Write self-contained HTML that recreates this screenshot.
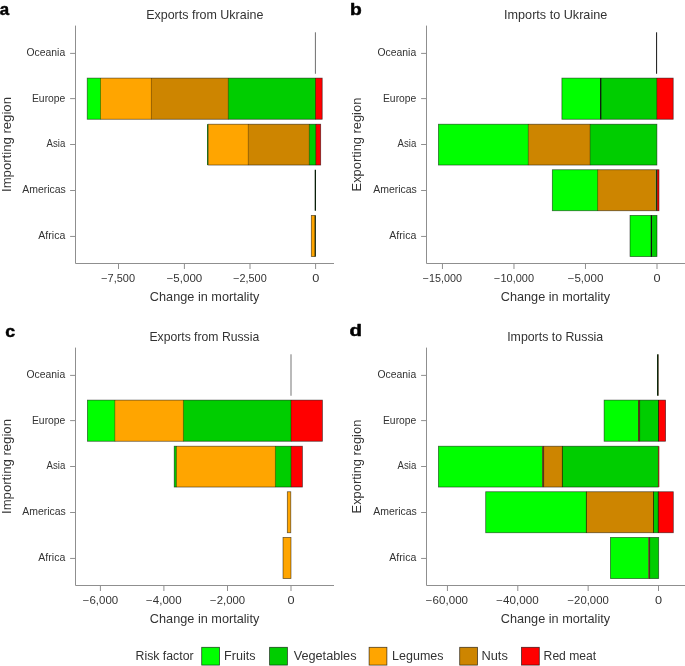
<!DOCTYPE html>
<html><head><meta charset="utf-8"><style>
html,body{margin:0;padding:0;background:#fff;}
body{width:685px;height:666px;overflow:hidden;}
svg{display:block;}
svg text{font-family:"Liberation Sans", sans-serif;fill:#333333;}
.t{opacity:0.999;}
</style></head><body>
<svg width="685" height="666" viewBox="0 0 685 666">
<rect x="0" y="0" width="685" height="666" fill="#fff"/>
<line x1="315.40" y1="32.30" x2="315.40" y2="73.75" stroke="#6e6e6e" stroke-width="1.0"/>
<rect x="87.20" y="78.10" width="13.90" height="41.15" fill="#00FF00" />
<rect x="100.50" y="78.10" width="51.50" height="41.15" fill="#FFA500" />
<rect x="151.40" y="78.10" width="77.50" height="41.15" fill="#CD8500" />
<rect x="228.30" y="78.10" width="87.80" height="41.15" fill="#00CD00" />
<rect x="315.50" y="78.10" width="6.70" height="41.15" fill="#FF0000" />
<rect x="87.20" y="78.10" width="235.00" height="41.15" fill="none" stroke="#000" stroke-opacity="0.6" stroke-width="0.75"/>
<line x1="100.50" y1="78.10" x2="100.50" y2="119.25" stroke="#000" stroke-opacity="0.45" stroke-width="0.75"/>
<line x1="151.40" y1="78.10" x2="151.40" y2="119.25" stroke="#000" stroke-opacity="0.45" stroke-width="0.75"/>
<line x1="228.30" y1="78.10" x2="228.30" y2="119.25" stroke="#000" stroke-opacity="0.45" stroke-width="0.75"/>
<line x1="315.50" y1="78.10" x2="315.50" y2="119.25" stroke="#000" stroke-opacity="0.45" stroke-width="0.75"/>
<rect x="208.10" y="124.20" width="40.80" height="40.85" fill="#FFA500" />
<rect x="248.30" y="124.20" width="61.60" height="40.85" fill="#CD8500" />
<rect x="309.30" y="124.20" width="7.10" height="40.85" fill="#00CD00" />
<rect x="315.80" y="124.20" width="4.90" height="40.85" fill="#FF0000" />
<rect x="208.10" y="124.20" width="112.60" height="40.85" fill="none" stroke="#000" stroke-opacity="0.6" stroke-width="0.75"/>
<line x1="248.30" y1="124.20" x2="248.30" y2="165.05" stroke="#000" stroke-opacity="0.45" stroke-width="0.75"/>
<line x1="309.30" y1="124.20" x2="309.30" y2="165.05" stroke="#000" stroke-opacity="0.45" stroke-width="0.75"/>
<line x1="315.80" y1="124.20" x2="315.80" y2="165.05" stroke="#000" stroke-opacity="0.45" stroke-width="0.75"/>
<rect x="207.00" y="124.20" width="1.10" height="40.85" fill="#1d6b1d" />
<line x1="315.35" y1="169.75" x2="315.35" y2="210.75" stroke="#0a200a" stroke-width="1.3"/>
<rect x="311.30" y="215.40" width="3.90" height="41.20" fill="#FFA500" />
<rect x="311.30" y="215.40" width="3.90" height="41.20" fill="none" stroke="#000" stroke-opacity="0.6" stroke-width="0.75"/>
<rect x="314.70" y="215.40" width="1.10" height="41.20" fill="#0a200a" />
<path d="M75.50 25.60 L75.50 263.50 L334.00 263.50" fill="none" stroke="#8f8f8f" stroke-width="1" stroke-linejoin="round"/>
<line x1="70.10" y1="53.40" x2="75.50" y2="53.40" stroke="#8f8f8f" stroke-width="1"/>
<line x1="70.10" y1="98.60" x2="75.50" y2="98.60" stroke="#8f8f8f" stroke-width="1"/>
<line x1="70.10" y1="144.50" x2="75.50" y2="144.50" stroke="#8f8f8f" stroke-width="1"/>
<line x1="70.10" y1="190.50" x2="75.50" y2="190.50" stroke="#8f8f8f" stroke-width="1"/>
<line x1="70.10" y1="236.45" x2="75.50" y2="236.45" stroke="#8f8f8f" stroke-width="1"/>
<line x1="118.50" y1="263.50" x2="118.50" y2="269.00" stroke="#8f8f8f" stroke-width="1"/>
<line x1="184.40" y1="263.50" x2="184.40" y2="269.00" stroke="#8f8f8f" stroke-width="1"/>
<line x1="250.00" y1="263.50" x2="250.00" y2="269.00" stroke="#8f8f8f" stroke-width="1"/>
<line x1="315.60" y1="263.50" x2="315.60" y2="269.00" stroke="#8f8f8f" stroke-width="1"/>
<rect x="656.00" y="32.30" width="1.10" height="41.45" fill="#2a2a2a" />
<rect x="561.90" y="78.10" width="39.40" height="41.15" fill="#00FF00" />
<rect x="600.70" y="78.10" width="56.70" height="41.15" fill="#00CD00" />
<rect x="656.80" y="78.10" width="16.40" height="41.15" fill="#FF0000" />
<rect x="561.90" y="78.10" width="111.30" height="41.15" fill="none" stroke="#000" stroke-opacity="0.6" stroke-width="0.75"/>
<line x1="600.70" y1="78.10" x2="600.70" y2="119.25" stroke="#000" stroke-opacity="0.45" stroke-width="0.75"/>
<line x1="656.80" y1="78.10" x2="656.80" y2="119.25" stroke="#000" stroke-opacity="0.45" stroke-width="0.75"/>
<rect x="600.10" y="78.10" width="1.20" height="41.15" fill="#111111" />
<rect x="438.40" y="124.20" width="90.50" height="40.85" fill="#00FF00" />
<rect x="528.30" y="124.20" width="62.40" height="40.85" fill="#CD8500" />
<rect x="590.10" y="124.20" width="66.80" height="40.85" fill="#00CD00" />
<rect x="438.40" y="124.20" width="218.50" height="40.85" fill="none" stroke="#000" stroke-opacity="0.6" stroke-width="0.75"/>
<line x1="528.30" y1="124.20" x2="528.30" y2="165.05" stroke="#000" stroke-opacity="0.45" stroke-width="0.75"/>
<line x1="590.10" y1="124.20" x2="590.10" y2="165.05" stroke="#000" stroke-opacity="0.45" stroke-width="0.75"/>
<rect x="552.30" y="169.75" width="45.90" height="41.00" fill="#00FF00" />
<rect x="597.60" y="169.75" width="58.20" height="41.00" fill="#CD8500" />
<rect x="657.10" y="169.75" width="1.90" height="41.00" fill="#FF0000" />
<rect x="552.30" y="169.75" width="106.70" height="41.00" fill="none" stroke="#000" stroke-opacity="0.6" stroke-width="0.75"/>
<line x1="597.60" y1="169.75" x2="597.60" y2="210.75" stroke="#000" stroke-opacity="0.45" stroke-width="0.75"/>
<line x1="657.10" y1="169.75" x2="657.10" y2="210.75" stroke="#000" stroke-opacity="0.45" stroke-width="0.75"/>
<rect x="655.80" y="169.75" width="1.30" height="41.00" fill="#0d3d0d" />
<rect x="630.00" y="215.40" width="21.90" height="41.20" fill="#00FF00" />
<rect x="651.30" y="215.40" width="5.70" height="41.20" fill="#00CD00" />
<rect x="630.00" y="215.40" width="27.00" height="41.20" fill="none" stroke="#000" stroke-opacity="0.6" stroke-width="0.75"/>
<line x1="651.30" y1="215.40" x2="651.30" y2="256.60" stroke="#000" stroke-opacity="0.45" stroke-width="0.75"/>
<rect x="650.80" y="215.40" width="1.20" height="41.20" fill="#111111" />
<path d="M426.50 25.60 L426.50 263.50 L685.50 263.50" fill="none" stroke="#8f8f8f" stroke-width="1" stroke-linejoin="round"/>
<line x1="421.10" y1="53.40" x2="426.50" y2="53.40" stroke="#8f8f8f" stroke-width="1"/>
<line x1="421.10" y1="98.60" x2="426.50" y2="98.60" stroke="#8f8f8f" stroke-width="1"/>
<line x1="421.10" y1="144.50" x2="426.50" y2="144.50" stroke="#8f8f8f" stroke-width="1"/>
<line x1="421.10" y1="190.50" x2="426.50" y2="190.50" stroke="#8f8f8f" stroke-width="1"/>
<line x1="421.10" y1="236.45" x2="426.50" y2="236.45" stroke="#8f8f8f" stroke-width="1"/>
<line x1="442.45" y1="263.50" x2="442.45" y2="269.00" stroke="#8f8f8f" stroke-width="1"/>
<line x1="513.97" y1="263.50" x2="513.97" y2="269.00" stroke="#8f8f8f" stroke-width="1"/>
<line x1="585.48" y1="263.50" x2="585.48" y2="269.00" stroke="#8f8f8f" stroke-width="1"/>
<line x1="657.00" y1="263.50" x2="657.00" y2="269.00" stroke="#8f8f8f" stroke-width="1"/>
<rect x="290.00" y="354.30" width="2.00" height="41.45" fill="#bababa" />
<rect x="87.40" y="400.10" width="28.00" height="41.15" fill="#00FF00" />
<rect x="114.80" y="400.10" width="69.20" height="41.15" fill="#FFA500" />
<rect x="183.40" y="400.10" width="108.20" height="41.15" fill="#00CD00" />
<rect x="291.00" y="400.10" width="31.40" height="41.15" fill="#FF0000" />
<rect x="87.40" y="400.10" width="235.00" height="41.15" fill="none" stroke="#000" stroke-opacity="0.6" stroke-width="0.75"/>
<line x1="114.80" y1="400.10" x2="114.80" y2="441.25" stroke="#000" stroke-opacity="0.45" stroke-width="0.75"/>
<line x1="183.40" y1="400.10" x2="183.40" y2="441.25" stroke="#000" stroke-opacity="0.45" stroke-width="0.75"/>
<line x1="291.00" y1="400.10" x2="291.00" y2="441.25" stroke="#000" stroke-opacity="0.45" stroke-width="0.75"/>
<rect x="174.20" y="446.20" width="2.80" height="40.85" fill="#00CD00" />
<rect x="176.40" y="446.20" width="99.60" height="40.85" fill="#FFA500" />
<rect x="275.40" y="446.20" width="16.30" height="40.85" fill="#00CD00" />
<rect x="291.10" y="446.20" width="11.30" height="40.85" fill="#FF0000" />
<rect x="174.20" y="446.20" width="128.20" height="40.85" fill="none" stroke="#000" stroke-opacity="0.6" stroke-width="0.75"/>
<line x1="176.40" y1="446.20" x2="176.40" y2="487.05" stroke="#000" stroke-opacity="0.45" stroke-width="0.75"/>
<line x1="275.40" y1="446.20" x2="275.40" y2="487.05" stroke="#000" stroke-opacity="0.45" stroke-width="0.75"/>
<line x1="291.10" y1="446.20" x2="291.10" y2="487.05" stroke="#000" stroke-opacity="0.45" stroke-width="0.75"/>
<rect x="287.30" y="491.75" width="3.50" height="41.00" fill="#FFA500" />
<rect x="287.30" y="491.75" width="3.50" height="41.00" fill="none" stroke="#000" stroke-opacity="0.6" stroke-width="0.75"/>
<rect x="283.00" y="537.40" width="8.00" height="41.20" fill="#FFA500" />
<rect x="283.00" y="537.40" width="8.00" height="41.20" fill="none" stroke="#000" stroke-opacity="0.6" stroke-width="0.75"/>
<path d="M75.50 347.60 L75.50 585.50 L334.00 585.50" fill="none" stroke="#8f8f8f" stroke-width="1" stroke-linejoin="round"/>
<line x1="70.10" y1="375.40" x2="75.50" y2="375.40" stroke="#8f8f8f" stroke-width="1"/>
<line x1="70.10" y1="420.60" x2="75.50" y2="420.60" stroke="#8f8f8f" stroke-width="1"/>
<line x1="70.10" y1="466.50" x2="75.50" y2="466.50" stroke="#8f8f8f" stroke-width="1"/>
<line x1="70.10" y1="512.50" x2="75.50" y2="512.50" stroke="#8f8f8f" stroke-width="1"/>
<line x1="70.10" y1="558.45" x2="75.50" y2="558.45" stroke="#8f8f8f" stroke-width="1"/>
<line x1="100.40" y1="585.50" x2="100.40" y2="591.00" stroke="#8f8f8f" stroke-width="1"/>
<line x1="163.90" y1="585.50" x2="163.90" y2="591.00" stroke="#8f8f8f" stroke-width="1"/>
<line x1="227.50" y1="585.50" x2="227.50" y2="591.00" stroke="#8f8f8f" stroke-width="1"/>
<line x1="291.00" y1="585.50" x2="291.00" y2="591.00" stroke="#8f8f8f" stroke-width="1"/>
<rect x="657.00" y="354.30" width="1.00" height="41.45" fill="#0b280b" />
<rect x="658.00" y="354.30" width="1.00" height="41.45" fill="#78705f" />
<rect x="604.10" y="400.10" width="34.20" height="41.15" fill="#00FF00" />
<rect x="639.60" y="400.10" width="19.50" height="41.15" fill="#00CD00" />
<rect x="658.50" y="400.10" width="7.10" height="41.15" fill="#FF0000" />
<rect x="604.10" y="400.10" width="61.50" height="41.15" fill="none" stroke="#000" stroke-opacity="0.6" stroke-width="0.75"/>
<line x1="639.60" y1="400.10" x2="639.60" y2="441.25" stroke="#000" stroke-opacity="0.8" stroke-width="0.75"/>
<line x1="658.50" y1="400.10" x2="658.50" y2="441.25" stroke="#000" stroke-opacity="0.8" stroke-width="0.75"/>
<rect x="638.10" y="400.10" width="1.60" height="41.15" fill="#4a2604" />
<rect x="438.40" y="446.20" width="104.00" height="40.85" fill="#00FF00" />
<rect x="543.60" y="446.20" width="19.40" height="40.85" fill="#CD8500" />
<rect x="562.40" y="446.20" width="95.90" height="40.85" fill="#00CD00" />
<rect x="438.40" y="446.20" width="219.90" height="40.85" fill="none" stroke="#000" stroke-opacity="0.6" stroke-width="0.75"/>
<line x1="543.60" y1="446.20" x2="543.60" y2="487.05" stroke="#000" stroke-opacity="0.8" stroke-width="0.75"/>
<line x1="562.40" y1="446.20" x2="562.40" y2="487.05" stroke="#000" stroke-opacity="0.8" stroke-width="0.75"/>
<rect x="542.20" y="446.20" width="1.50" height="40.85" fill="#4a2604" />
<rect x="658.20" y="446.20" width="1.10" height="40.85" fill="#8a1a05" />
<rect x="485.70" y="491.75" width="101.30" height="41.00" fill="#00FF00" />
<rect x="586.40" y="491.75" width="67.70" height="41.00" fill="#CD8500" />
<rect x="653.50" y="491.75" width="5.40" height="41.00" fill="#00CD00" />
<rect x="658.30" y="491.75" width="15.00" height="41.00" fill="#FF0000" />
<rect x="485.70" y="491.75" width="187.60" height="41.00" fill="none" stroke="#000" stroke-opacity="0.6" stroke-width="0.75"/>
<line x1="586.40" y1="491.75" x2="586.40" y2="532.75" stroke="#000" stroke-opacity="0.8" stroke-width="0.75"/>
<line x1="653.50" y1="491.75" x2="653.50" y2="532.75" stroke="#000" stroke-opacity="0.8" stroke-width="0.75"/>
<line x1="658.30" y1="491.75" x2="658.30" y2="532.75" stroke="#000" stroke-opacity="0.8" stroke-width="0.75"/>
<rect x="610.40" y="537.40" width="38.00" height="41.20" fill="#00FF00" />
<rect x="649.60" y="537.40" width="9.10" height="41.20" fill="#00CD00" />
<rect x="610.40" y="537.40" width="48.30" height="41.20" fill="none" stroke="#000" stroke-opacity="0.6" stroke-width="0.75"/>
<line x1="649.60" y1="537.40" x2="649.60" y2="578.60" stroke="#000" stroke-opacity="0.8" stroke-width="0.75"/>
<rect x="648.30" y="537.40" width="1.40" height="41.20" fill="#4a2604" />
<path d="M426.50 347.60 L426.50 585.50 L685.50 585.50" fill="none" stroke="#8f8f8f" stroke-width="1" stroke-linejoin="round"/>
<line x1="421.10" y1="375.40" x2="426.50" y2="375.40" stroke="#8f8f8f" stroke-width="1"/>
<line x1="421.10" y1="420.60" x2="426.50" y2="420.60" stroke="#8f8f8f" stroke-width="1"/>
<line x1="421.10" y1="466.50" x2="426.50" y2="466.50" stroke="#8f8f8f" stroke-width="1"/>
<line x1="421.10" y1="512.50" x2="426.50" y2="512.50" stroke="#8f8f8f" stroke-width="1"/>
<line x1="421.10" y1="558.45" x2="426.50" y2="558.45" stroke="#8f8f8f" stroke-width="1"/>
<line x1="447.45" y1="585.50" x2="447.45" y2="591.00" stroke="#8f8f8f" stroke-width="1"/>
<line x1="517.80" y1="585.50" x2="517.80" y2="591.00" stroke="#8f8f8f" stroke-width="1"/>
<line x1="588.15" y1="585.50" x2="588.15" y2="591.00" stroke="#8f8f8f" stroke-width="1"/>
<line x1="658.50" y1="585.50" x2="658.50" y2="591.00" stroke="#8f8f8f" stroke-width="1"/>
<rect x="201.70" y="647.30" width="17.80" height="17.80" fill="#00FF00" stroke="#000" stroke-opacity="0.7" stroke-width="0.8"/>
<rect x="269.60" y="647.30" width="17.80" height="17.80" fill="#00CD00" stroke="#000" stroke-opacity="0.7" stroke-width="0.8"/>
<rect x="369.10" y="647.30" width="17.80" height="17.80" fill="#FFA500" stroke="#000" stroke-opacity="0.7" stroke-width="0.8"/>
<rect x="459.70" y="647.30" width="17.80" height="17.80" fill="#CD8500" stroke="#000" stroke-opacity="0.7" stroke-width="0.8"/>
<rect x="521.50" y="647.30" width="17.80" height="17.80" fill="#FF0000" stroke="#000" stroke-opacity="0.7" stroke-width="0.8"/>
<g class="t">
<text x="26.53" y="56.00" font-size="10.0" font-weight="normal" textLength="38.66" lengthAdjust="spacingAndGlyphs" >Oceania</text>
<text x="31.97" y="102.00" font-size="10.0" font-weight="normal" textLength="33.39" lengthAdjust="spacingAndGlyphs" >Europe</text>
<text x="46.60" y="147.00" font-size="10.0" font-weight="normal" textLength="18.68" lengthAdjust="spacingAndGlyphs" >Asia</text>
<text x="22.20" y="193.00" font-size="10.0" font-weight="normal" textLength="43.67" lengthAdjust="spacingAndGlyphs" >Americas</text>
<text x="38.30" y="239.00" font-size="10.0" font-weight="normal" textLength="26.99" lengthAdjust="spacingAndGlyphs" >Africa</text>
<text x="101.23" y="281.60" font-size="10.0" font-weight="normal" textLength="33.85" lengthAdjust="spacingAndGlyphs" >−7,500</text>
<text x="166.65" y="281.60" font-size="10.0" font-weight="normal" textLength="35.60" lengthAdjust="spacingAndGlyphs" >−5,000</text>
<text x="233.18" y="281.60" font-size="10.0" font-weight="normal" textLength="33.54" lengthAdjust="spacingAndGlyphs" >−2,500</text>
<text x="312.32" y="281.60" font-size="10.0" font-weight="normal" textLength="7.07" lengthAdjust="spacingAndGlyphs" >0</text>
<text x="149.86" y="301.10" font-size="12.1" font-weight="normal" textLength="109.44" lengthAdjust="spacingAndGlyphs" >Change in mortality</text>
<text x="146.20" y="19.00" font-size="12.4" font-weight="normal" textLength="117.15" lengthAdjust="spacingAndGlyphs" >Exports from Ukraine</text>
<g transform="rotate(-90)"><text x="-191.98" y="10.60" font-size="12.2" font-weight="normal" textLength="94.92" lengthAdjust="spacingAndGlyphs" >Importing region</text></g>
<text x="377.53" y="56.00" font-size="10.0" font-weight="normal" textLength="38.66" lengthAdjust="spacingAndGlyphs" >Oceania</text>
<text x="382.97" y="102.00" font-size="10.0" font-weight="normal" textLength="33.39" lengthAdjust="spacingAndGlyphs" >Europe</text>
<text x="397.60" y="147.00" font-size="10.0" font-weight="normal" textLength="18.68" lengthAdjust="spacingAndGlyphs" >Asia</text>
<text x="373.20" y="193.00" font-size="10.0" font-weight="normal" textLength="43.67" lengthAdjust="spacingAndGlyphs" >Americas</text>
<text x="389.30" y="239.00" font-size="10.0" font-weight="normal" textLength="26.99" lengthAdjust="spacingAndGlyphs" >Africa</text>
<text x="422.84" y="281.60" font-size="10.0" font-weight="normal" textLength="39.22" lengthAdjust="spacingAndGlyphs" >−15,000</text>
<text x="494.08" y="281.60" font-size="10.0" font-weight="normal" textLength="39.93" lengthAdjust="spacingAndGlyphs" >−10,000</text>
<text x="567.70" y="281.60" font-size="10.0" font-weight="normal" textLength="35.70" lengthAdjust="spacingAndGlyphs" >−5,000</text>
<text x="653.57" y="281.60" font-size="10.0" font-weight="normal" textLength="7.07" lengthAdjust="spacingAndGlyphs" >0</text>
<text x="500.77" y="301.10" font-size="12.1" font-weight="normal" textLength="109.34" lengthAdjust="spacingAndGlyphs" >Change in mortality</text>
<text x="504.06" y="19.00" font-size="12.4" font-weight="normal" textLength="103.20" lengthAdjust="spacingAndGlyphs" >Imports to Ukraine</text>
<g transform="rotate(-90)"><text x="-191.43" y="360.60" font-size="12.2" font-weight="normal" textLength="93.73" lengthAdjust="spacingAndGlyphs" >Exporting region</text></g>
<text x="26.53" y="378.00" font-size="10.0" font-weight="normal" textLength="38.66" lengthAdjust="spacingAndGlyphs" >Oceania</text>
<text x="31.97" y="424.00" font-size="10.0" font-weight="normal" textLength="33.39" lengthAdjust="spacingAndGlyphs" >Europe</text>
<text x="46.60" y="469.00" font-size="10.0" font-weight="normal" textLength="18.68" lengthAdjust="spacingAndGlyphs" >Asia</text>
<text x="22.20" y="515.00" font-size="10.0" font-weight="normal" textLength="43.67" lengthAdjust="spacingAndGlyphs" >Americas</text>
<text x="38.30" y="561.00" font-size="10.0" font-weight="normal" textLength="26.99" lengthAdjust="spacingAndGlyphs" >Africa</text>
<text x="82.70" y="603.60" font-size="10.0" font-weight="normal" textLength="35.50" lengthAdjust="spacingAndGlyphs" >−6,000</text>
<text x="146.10" y="603.60" font-size="10.0" font-weight="normal" textLength="35.50" lengthAdjust="spacingAndGlyphs" >−4,000</text>
<text x="210.11" y="603.60" font-size="10.0" font-weight="normal" textLength="35.08" lengthAdjust="spacingAndGlyphs" >−2,000</text>
<text x="287.47" y="603.60" font-size="10.0" font-weight="normal" textLength="7.07" lengthAdjust="spacingAndGlyphs" >0</text>
<text x="149.86" y="623.10" font-size="12.1" font-weight="normal" textLength="109.44" lengthAdjust="spacingAndGlyphs" >Change in mortality</text>
<text x="149.42" y="341.00" font-size="12.4" font-weight="normal" textLength="109.75" lengthAdjust="spacingAndGlyphs" >Exports from Russia</text>
<g transform="rotate(-90)"><text x="-513.98" y="10.60" font-size="12.2" font-weight="normal" textLength="94.92" lengthAdjust="spacingAndGlyphs" >Importing region</text></g>
<text x="377.53" y="378.00" font-size="10.0" font-weight="normal" textLength="38.66" lengthAdjust="spacingAndGlyphs" >Oceania</text>
<text x="382.97" y="424.00" font-size="10.0" font-weight="normal" textLength="33.39" lengthAdjust="spacingAndGlyphs" >Europe</text>
<text x="397.60" y="469.00" font-size="10.0" font-weight="normal" textLength="18.68" lengthAdjust="spacingAndGlyphs" >Asia</text>
<text x="373.20" y="515.00" font-size="10.0" font-weight="normal" textLength="43.67" lengthAdjust="spacingAndGlyphs" >Americas</text>
<text x="389.30" y="561.00" font-size="10.0" font-weight="normal" textLength="26.99" lengthAdjust="spacingAndGlyphs" >Africa</text>
<text x="425.85" y="603.60" font-size="10.0" font-weight="normal" textLength="42.19" lengthAdjust="spacingAndGlyphs" >−60,000</text>
<text x="496.25" y="603.60" font-size="10.0" font-weight="normal" textLength="42.39" lengthAdjust="spacingAndGlyphs" >−40,000</text>
<text x="567.51" y="603.60" font-size="10.0" font-weight="normal" textLength="41.27" lengthAdjust="spacingAndGlyphs" >−20,000</text>
<text x="655.07" y="603.60" font-size="10.0" font-weight="normal" textLength="7.07" lengthAdjust="spacingAndGlyphs" >0</text>
<text x="500.77" y="623.10" font-size="12.1" font-weight="normal" textLength="109.34" lengthAdjust="spacingAndGlyphs" >Change in mortality</text>
<text x="507.19" y="341.00" font-size="12.4" font-weight="normal" textLength="95.99" lengthAdjust="spacingAndGlyphs" >Imports to Russia</text>
<g transform="rotate(-90)"><text x="-513.43" y="360.60" font-size="12.2" font-weight="normal" textLength="93.73" lengthAdjust="spacingAndGlyphs" >Exporting region</text></g>
<text x="-0.21" y="14.70" font-size="17.0" font-weight="bold" textLength="9.36" lengthAdjust="spacingAndGlyphs" style="fill:#000;stroke:#000;stroke-width:0.5px;stroke-linejoin:round">a</text>
<text x="349.90" y="14.50" font-size="17.0" font-weight="bold" textLength="11.73" lengthAdjust="spacingAndGlyphs" style="fill:#000;stroke:#000;stroke-width:0.5px;stroke-linejoin:round">b</text>
<text x="5.38" y="336.50" font-size="17.0" font-weight="bold" textLength="9.87" lengthAdjust="spacingAndGlyphs" style="fill:#000;stroke:#000;stroke-width:0.5px;stroke-linejoin:round">c</text>
<text x="349.63" y="336.40" font-size="17.0" font-weight="bold" textLength="12.46" lengthAdjust="spacingAndGlyphs" style="fill:#000;stroke:#000;stroke-width:0.5px;stroke-linejoin:round">d</text>
<text x="135.52" y="659.80" font-size="12" font-weight="normal" textLength="58.08" lengthAdjust="spacingAndGlyphs" >Risk factor</text>
<text x="224.09" y="659.80" font-size="12" font-weight="normal" textLength="31.45" lengthAdjust="spacingAndGlyphs" >Fruits</text>
<text x="293.67" y="659.80" font-size="12" font-weight="normal" textLength="62.86" lengthAdjust="spacingAndGlyphs" >Vegetables</text>
<text x="392.10" y="659.80" font-size="12" font-weight="normal" textLength="51.42" lengthAdjust="spacingAndGlyphs" >Legumes</text>
<text x="481.47" y="659.80" font-size="12" font-weight="normal" textLength="26.39" lengthAdjust="spacingAndGlyphs" >Nuts</text>
<text x="543.63" y="659.80" font-size="12" font-weight="normal" textLength="52.54" lengthAdjust="spacingAndGlyphs" >Red meat</text>
</g>
</svg>
</body></html>
